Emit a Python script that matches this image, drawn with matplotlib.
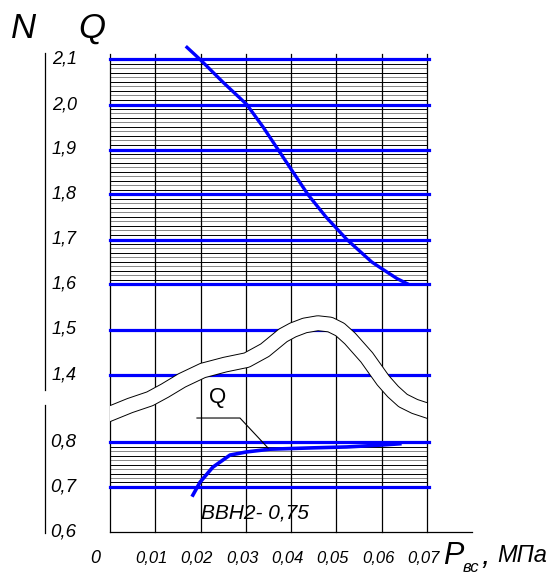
import matplotlib.pyplot as plt
import numpy as np

# pressure ticks, MPa
x_ticks = [0.01, 0.02, 0.03, 0.04, 0.05, 0.06, 0.07]
x_tick_labels = ['0,01', '0,02', '0,03', '0,04', '0,05', '0,06', '0,07']
upper_levels = [2.1, 2.0, 1.9, 1.8, 1.7, 1.6, 1.5, 1.4]
upper_labels = ['2,1', '2,0', '1,9', '1,8', '1,7', '1,6', '1,5', '1,4']
lower_levels = [0.8, 0.7, 0.6]
lower_labels = ['0,8', '0,7', '0,6']

# falling blue curve (upper scale)
p_top = [0.0170, 0.0199, 0.0249, 0.0302, 0.0338, 0.0371, 0.0404, 0.0437,
         0.0477, 0.0523, 0.0578, 0.0596, 0.0634, 0.0656]
v_top = [2.127, 2.100, 2.050, 2.000, 1.950, 1.900, 1.850, 1.800,
         1.750, 1.700, 1.650, 1.638, 1.613, 1.602]

# white band curve (upper scale)
p_band = [0.0, 0.0044, 0.0088, 0.0121, 0.0159, 0.0205, 0.0254, 0.0302, 0.0342,
          0.0382, 0.0404, 0.0430, 0.0459, 0.0486, 0.0508, 0.0530, 0.0567,
          0.0603, 0.0625, 0.0647, 0.0673, 0.0700]
n_band = [1.313, 1.331, 1.346, 1.364, 1.387, 1.409, 1.422, 1.432, 1.454,
          1.487, 1.499, 1.509, 1.514, 1.511, 1.500, 1.480, 1.438,
          1.387, 1.362, 1.342, 1.329, 1.320]

# Q curve (lower scale)
p_q = [0.0183, 0.0199, 0.0227, 0.0265, 0.0302, 0.0353, 0.0448, 0.0523, 0.0596, 0.0640]
q_vals = [0.682, 0.711, 0.744, 0.771, 0.778, 0.784, 0.787, 0.789, 0.793, 0.796]


def up(v):
    return 3.5 + (np.asarray(v) - 1.4) * 10


def low(v):
    return (np.asarray(v) - 0.6) * 10


FONT = 'Liberation Sans'
BLUE = '#0000ff'

fig = plt.figure(figsize=(5.54, 5.75), dpi=100)
ax = fig.add_axes([110 / 554, 43 / 575, 317 / 554, 472.5 / 575])
ax.set_xlim(0, 0.07)
ax.set_ylim(0, 10.5)
ax.axis('off')

# fine hatching
for k in range(1, 50):
    v = 2.1 - k * 0.01
    if k % 10 == 0:
        continue
    ax.plot([0, 0.07], [up(v)] * 2, color='black' if k % 2 else '#888888', lw=0.7, zorder=1)
for k in range(1, 10):
    v = 0.8 - k * 0.01
    ax.plot([0, 0.07], [low(v)] * 2, color='black' if k % 2 else '#888888', lw=0.7, zorder=1)

# verticals
for x in [0] + x_ticks:
    ax.plot([x, x], [0, 10.62], color='black', lw=0.9, zorder=2, clip_on=False)
ax.plot([0, 0.0799], [0, 0], color='black', lw=0.9, zorder=2, clip_on=False)

# blue levels
for v in upper_levels:
    ax.plot([0, 0.0704], [up(v)] * 2, color=BLUE, lw=2.3, zorder=3, clip_on=False)
for v in lower_levels[:2]:
    ax.plot([0, 0.0704], [low(v)] * 2, color=BLUE, lw=2.3, zorder=3, clip_on=False)

# band
ax.plot(p_band, up(n_band), color='black', lw=11.4, zorder=4, solid_joinstyle='round')
ax.plot(p_band, up(n_band), color='white', lw=10.0, zorder=5, solid_joinstyle='round')

# curves
ax.plot(p_top, up(v_top), color=BLUE, lw=2.4, zorder=6, clip_on=False,
        solid_joinstyle='round')
ax.plot(p_q, low(q_vals), color=BLUE, lw=2.6, zorder=6, solid_joinstyle='round')

# leader to Q
ax.plot([0.0192, 0.0287, 0.0349], [2.533, 2.533, 1.867], color='black', lw=0.8, zorder=6)
ax.text(0.0237, 3.0, 'Q', fontsize=16, family=FONT, ha='center', va='center', zorder=7)
ax.text(0.0202, 0.42, 'ВВН2- 0,75', fontsize=15, family=FONT, style='italic',
        ha='left', va='center', zorder=7)

# left scale
lx = -65 / 4530
ax.plot([lx, lx], [10.64, 3.16], color='black', lw=0.9, clip_on=False)
ax.plot([lx, lx], [2.82, -0.02], color='black', lw=0.9, clip_on=False)
for v, s in zip(upper_levels, upper_labels):
    ax.text(-58 / 4530, up(v), s, fontsize=13, family=FONT, style='italic',
            ha='left', va='center', clip_on=False)
for v, s in zip(lower_levels, lower_labels):
    ax.text(-60 / 4530, low(v), s, fontsize=13.5, family=FONT, style='italic',
            ha='left', va='center', clip_on=False)

# x labels
for x, s in zip(x_ticks, x_tick_labels):
    ax.text(x - 0.0008, -0.58, s, fontsize=12, family=FONT, style='italic',
            ha='center', va='center', clip_on=False)
ax.text(-0.0033, -0.58, '0', fontsize=13, family=FONT, style='italic',
        ha='center', va='center', clip_on=False)

# axis titles
fig.text(443 / 554, 1 - 556 / 575, 'P', fontsize=22, family=FONT, style='italic',
         ha='left', va='center')
fig.text(463 / 554, 1 - 567 / 575, 'вс', fontsize=12, family=FONT, style='italic',
         ha='left', va='center')
fig.text(481 / 554, 1 - 556 / 575, ',', fontsize=22, family=FONT, style='italic',
         ha='left', va='center')
fig.text(497 / 554, 1 - 556 / 575, 'МПа', fontsize=17, family=FONT, style='italic',
         ha='left', va='center')
fig.text(24 / 554, 1 - 28 / 575, 'N', fontsize=25, family=FONT, style='italic',
         ha='center', va='center')
fig.text(92 / 554, 1 - 28 / 575, 'Q', fontsize=25, family=FONT, style='italic',
         ha='center', va='center')

fig.savefig('out.png', dpi=100)
